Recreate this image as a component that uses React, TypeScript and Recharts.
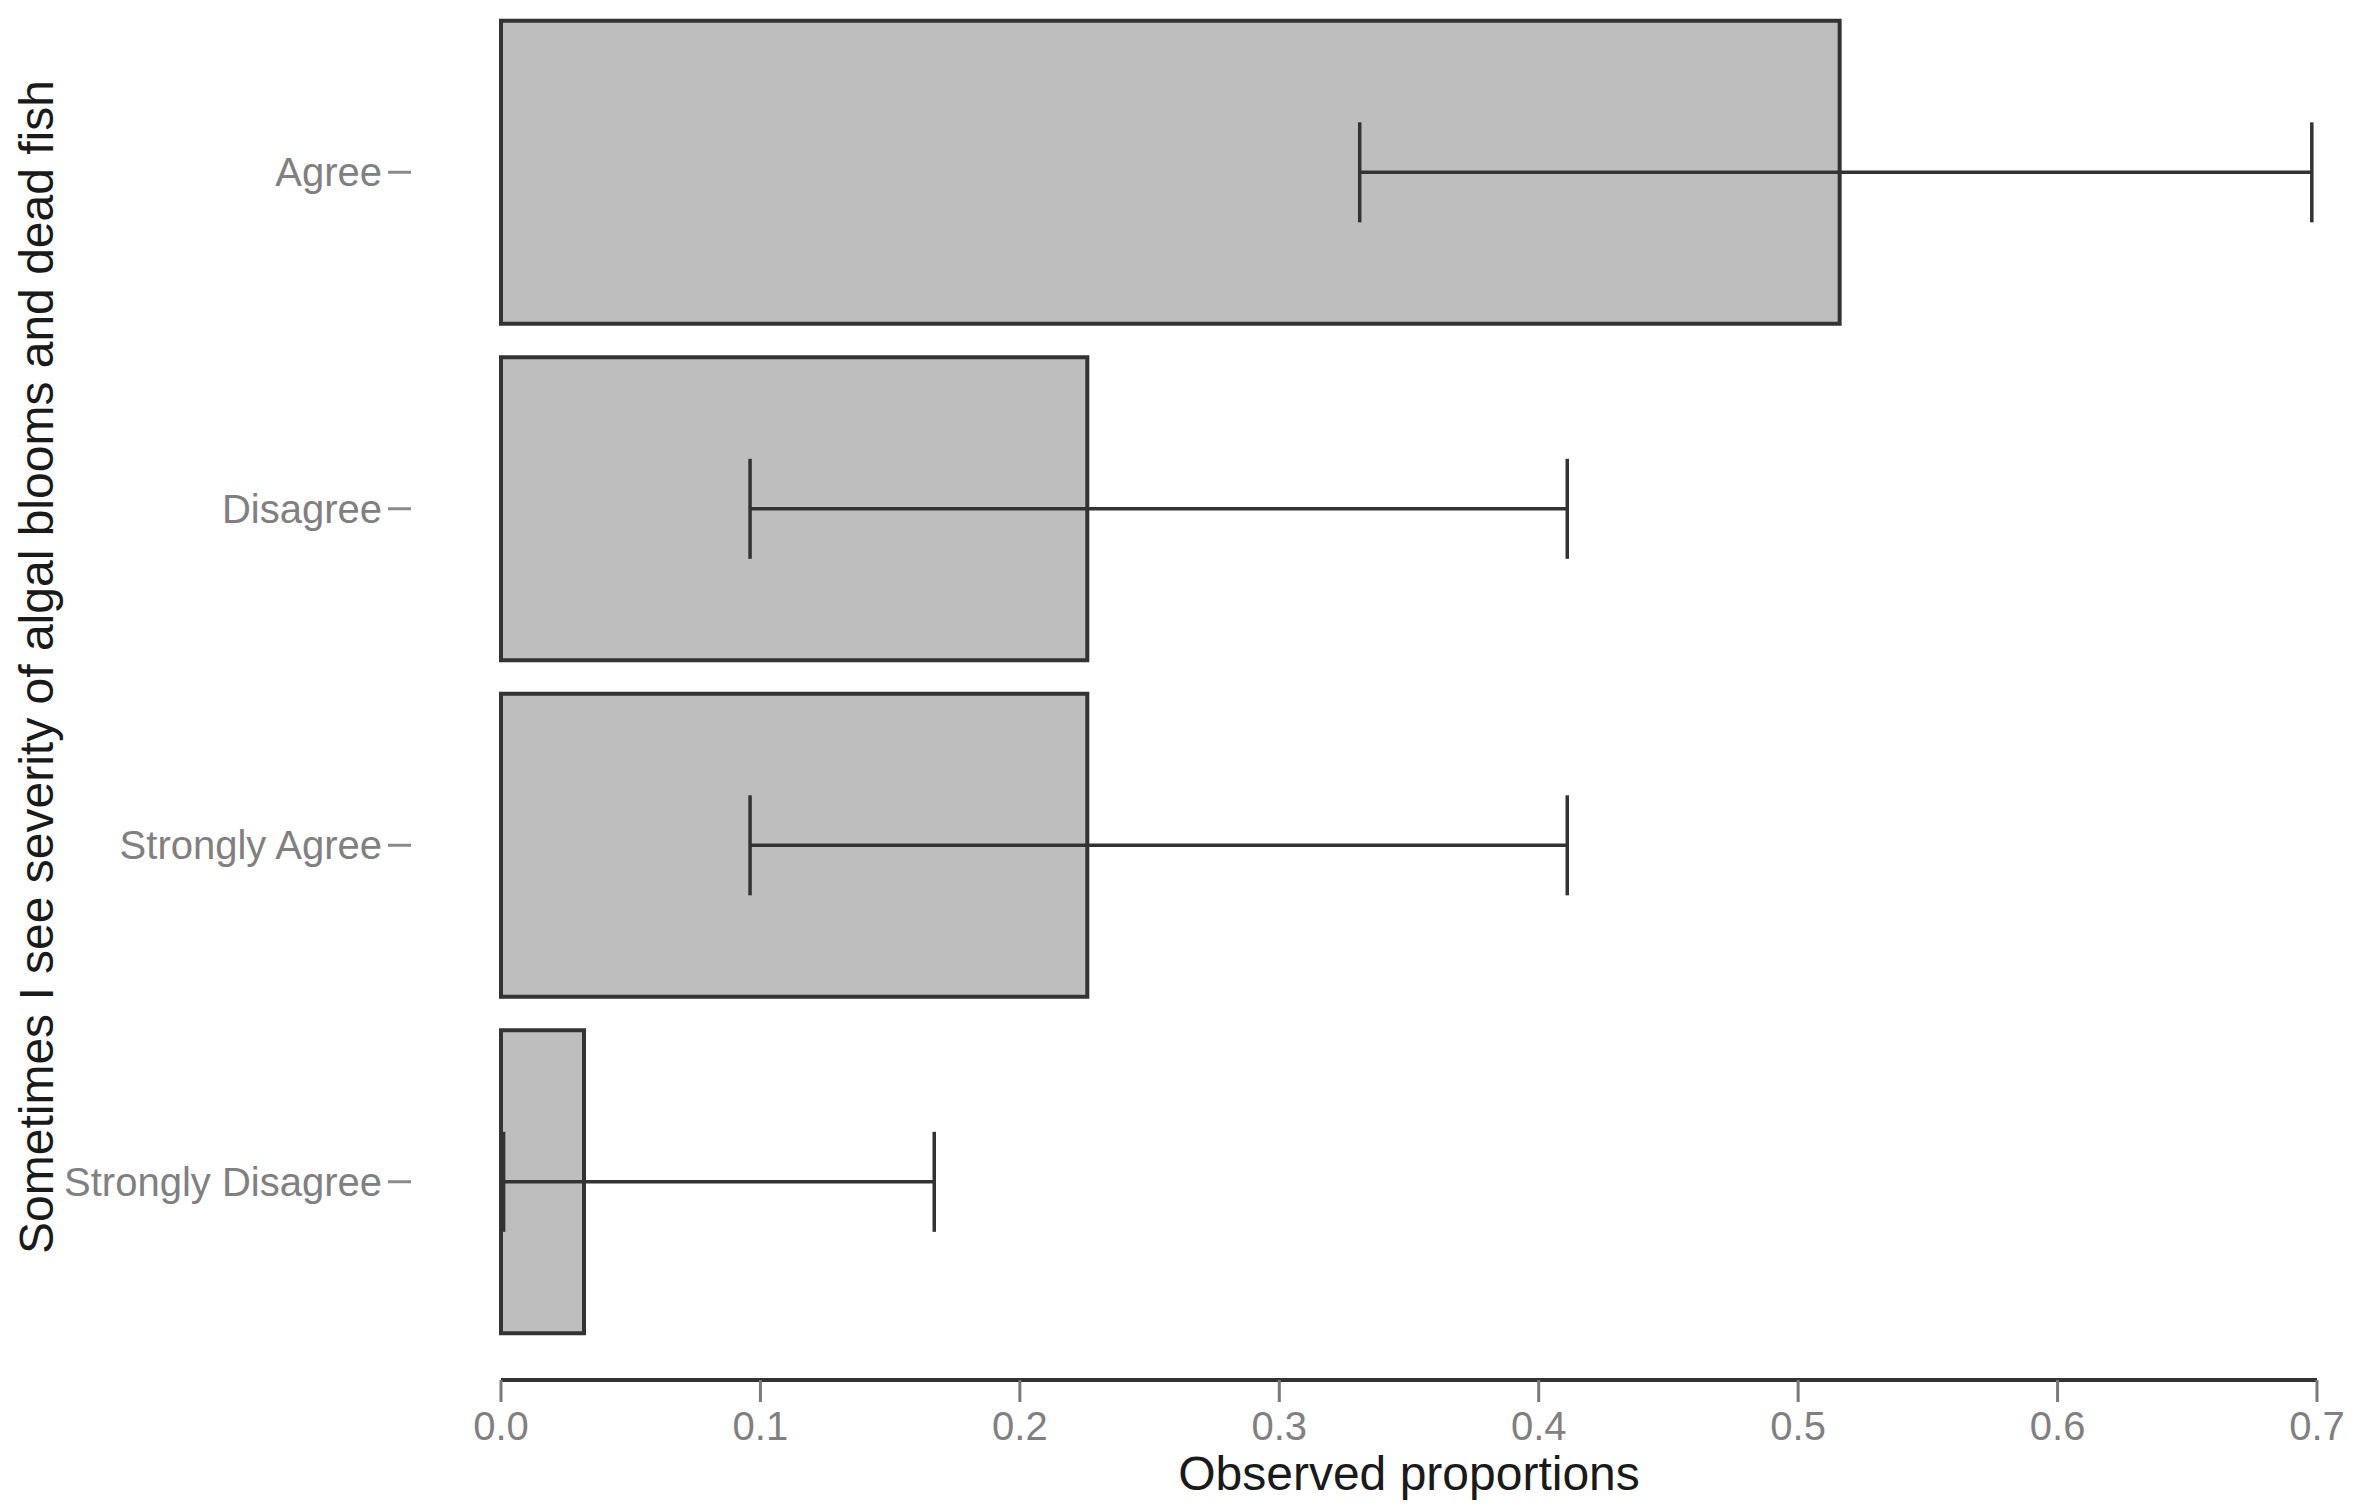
import React from 'react'
import { BarChart, Bar, XAxis, YAxis, ErrorBar } from 'recharts'

// Observed proportions with 95% CI, one row per response
const categories = ['Agree', 'Disagree', 'Strongly Agree', 'Strongly Disagree']
const proportions = [0.516, 0.226, 0.226, 0.032]
const ciLower = [0.331, 0.096, 0.096, 0.001]
const ciUpper = [0.698, 0.411, 0.411, 0.167]
const xTicks = [0, 0.1, 0.2, 0.3, 0.4, 0.5, 0.6, 0.7]

const data = categories.map((name, i) => ({
  name,
  value: proportions[i],
  err: [proportions[i] - ciLower[i], ciUpper[i] - proportions[i]],
}))

const FONT = '"Liberation Sans", Arial, sans-serif'

function CategoryTick(props: any) {
  const { x, y, payload } = props
  return (
    <g>
      <line x1={x - 113} y1={y} x2={x - 90} y2={y} stroke="#8a8a8a" strokeWidth={3} />
      <text
        x={x - 119}
        y={y}
        dy="0.35em"
        textAnchor="end"
        fill="#808080"
        fontSize={40}
        fontFamily={FONT}
      >
        {payload.value}
      </text>
    </g>
  )
}

function YTitle(props: any) {
  const { viewBox } = props
  const cx = 53
  const cy = viewBox.y + viewBox.height / 2 - 25
  return (
    <text
      x={cx}
      y={cy}
      transform={`rotate(-90, ${cx}, ${cy})`}
      textAnchor="middle"
      fill="#1a1a1a"
      fontSize={48}
      fontFamily={FONT}
    >
      Sometimes I see severity of algal blooms and dead fish
    </text>
  )
}

export default function App() {
  return (
    <div style={{ position: 'absolute', left: 0, top: 0, background: '#fff' }}>
      <BarChart
        width={2364}
        height={1512}
        data={data}
        layout="vertical"
        barCategoryGap="5%"
        margin={{ top: 4, right: 47, bottom: 0, left: 0 }}
        style={{ fontFamily: FONT }}
      >
        <XAxis
          type="number"
          domain={[0, 0.7]}
          ticks={xTicks}
          tickFormatter={(v: number) => v.toFixed(1)}
          height={132}
          tickSize={22}
          tickMargin={10}
          axisLine={{ stroke: '#333', strokeWidth: 4 }}
          tickLine={{ stroke: '#7a7a7a', strokeWidth: 3 }}
          tick={{ fill: '#808080', fontSize: 40, fontFamily: FONT }}
          label={{
            value: 'Observed proportions',
            position: 'insideBottom',
            offset: 22,
            fill: '#1a1a1a',
            fontSize: 48,
            fontFamily: FONT,
          }}
        />
        <YAxis
          type="category"
          dataKey="name"
          width={501}
          axisLine={false}
          tickLine={false}
          tickSize={0}
          tickMargin={0}
          padding={{ top: 0, bottom: 30 }}
          tick={<CategoryTick />}
          label={<YTitle />}
        />
        <Bar
          dataKey="value"
          fill="#bebebe"
          stroke="#333"
          strokeWidth={4}
          isAnimationActive={false}
        >
          <ErrorBar
            dataKey="err"
            direction="x"
            width={50}
            stroke="#333"
            strokeWidth={3.5}
            isAnimationActive={false}
          />
        </Bar>
      </BarChart>
    </div>
  )
}
